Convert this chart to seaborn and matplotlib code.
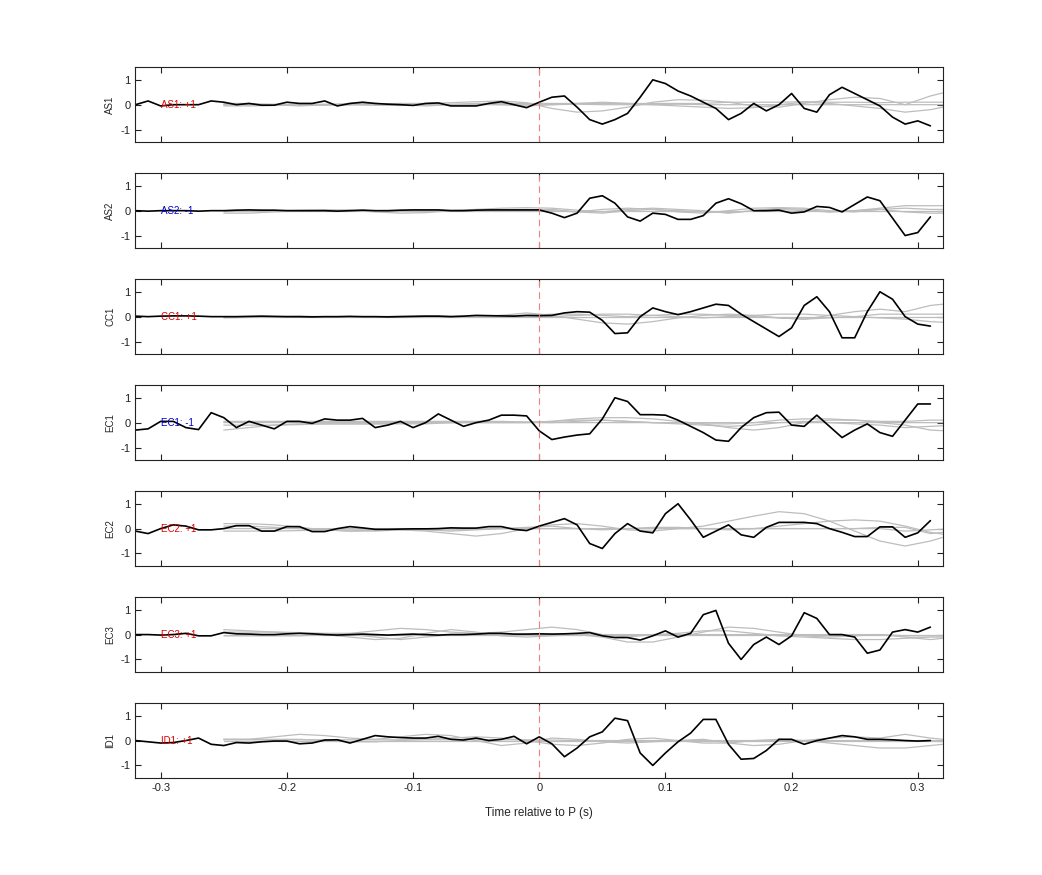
import numpy as np
import pandas as pd
import matplotlib
matplotlib.use("Agg")
import matplotlib.pyplot as plt
import seaborn as sns

stations = ["AS1", "AS2", "CC1", "EC1", "EC2", "EC3", "ID1"]
polarity = ["+1", "-1", "+1", "-1", "+1", "+1", "+1"]
pol_colors = ["#dd0000", "#0000cc", "#dd0000", "#0000cc", "#dd0000", "#dd0000", "#dd0000"]

t_obs = np.round(np.arange(-32, 32) * 0.01, 2)

obs_AS1 = [0.0, 0.15, -0.05, 0.0, 0.0, 0.0, 0.15, 0.1, 0.0, 0.05, -0.02, -0.02, 0.1, 0.05, 0.05, 0.15,
           -0.05, 0.05, 0.1, 0.05, 0.02, 0.0, -0.03, 0.05, 0.07, -0.05, -0.05, -0.05, 0.05, 0.12, 0.0, -0.12,
           0.1, 0.3, 0.35, -0.1, -0.6, -0.78, -0.6, -0.35, 0.3, 1.0, 0.85, 0.55, 0.35, 0.1, -0.15, -0.6,
           -0.35, 0.05, -0.25, 0.0, 0.45, -0.15, -0.3, 0.4, 0.7, 0.45, 0.2, -0.05, -0.5, -0.78, -0.65, -0.85]
obs_AS2 = [0.0, -0.02, 0.0, 0.0, 0.0, -0.02, 0.0, 0.0, 0.02, 0.03, 0.02, 0.02, 0.0, 0.0, 0.0, 0.0,
           -0.02, 0.0, 0.02, 0.0, 0.0, 0.02, 0.03, 0.03, 0.03, 0.0, 0.0, 0.02, 0.03, 0.03, 0.03, 0.03,
           0.03, -0.1, -0.28, -0.1, 0.5, 0.6, 0.3, -0.25, -0.42, -0.1, -0.15, -0.35, -0.35, -0.2, 0.3, 0.48,
           0.28, 0.0, 0.0, 0.02, -0.1, -0.05, 0.17, 0.13, -0.05, 0.25, 0.55, 0.4, -0.3, -1.0, -0.88, -0.25]
obs_CC1 = [0.02, 0.0, 0.02, 0.03, 0.03, 0.02, 0.0, 0.0, 0.0, 0.01, 0.02, 0.01, 0.0, 0.0, -0.01, 0.0,
           0.0, 0.01, 0.0, 0.0, -0.01, 0.0, 0.01, 0.02, 0.02, 0.0, 0.02, 0.05, 0.04, 0.03, 0.02, 0.05,
           0.04, 0.05, 0.15, 0.2, 0.18, -0.15, -0.68, -0.65, 0.0, 0.35, 0.2, 0.08, 0.2, 0.35, 0.5, 0.45,
           0.1, -0.2, -0.5, -0.8, -0.45, 0.45, 0.8, 0.2, -0.85, -0.85, 0.2, 1.0, 0.7, 0.0, -0.3, -0.38]
obs_EC1 = [-0.3, -0.25, 0.05, 0.05, -0.2, -0.28, 0.4, 0.2, -0.2, 0.05, -0.1, -0.25, 0.05, 0.05, -0.03, 0.15,
           0.1, 0.1, 0.17, -0.2, -0.1, 0.05, -0.2, 0.0, 0.35, 0.1, -0.15, 0.0, 0.1, 0.3, 0.3, 0.27,
           -0.33, -0.68, -0.58, -0.5, -0.45, 0.15, 1.0, 0.85, 0.32, 0.32, 0.3, 0.1, -0.15, -0.4, -0.7, -0.75,
           -0.2, 0.2, 0.4, 0.42, -0.1, -0.15, 0.3, -0.15, -0.6, -0.3, -0.05, -0.4, -0.55, 0.1, 0.75, 0.75]
obs_EC2 = [-0.1, -0.2, 0.0, 0.15, 0.1, -0.05, -0.05, 0.0, 0.12, 0.12, -0.1, -0.1, 0.08, 0.08, -0.12, -0.12,
           0.0, 0.08, 0.03, -0.03, -0.03, -0.02, -0.01, -0.01, 0.0, 0.03, 0.02, 0.02, 0.08, 0.08, -0.03, -0.08,
           0.1, 0.25, 0.4, 0.15, -0.6, -0.8, -0.2, 0.2, -0.1, -0.17, 0.6, 1.0, 0.35, -0.35, -0.1, 0.15,
           -0.25, -0.35, 0.05, 0.25, 0.25, 0.25, 0.2, 0.0, -0.15, -0.32, -0.32, 0.07, 0.07, -0.35, -0.17, 0.32]
obs_EC3 = [0.0, 0.0, -0.02, 0.0, 0.05, -0.05, -0.05, 0.08, 0.03, 0.02, 0.0, 0.0, 0.03, 0.05, 0.03, 0.0,
           -0.02, 0.0, 0.02, 0.0, -0.02, 0.0, 0.02, 0.0, -0.02, 0.0, 0.0, 0.02, 0.05, 0.05, 0.02, 0.02,
           0.03, 0.02, 0.03, 0.05, 0.08, -0.05, -0.12, -0.12, -0.22, -0.05, 0.15, -0.1, 0.05, 0.8, 0.97, -0.35,
           -1.0, -0.4, -0.1, -0.4, -0.05, 0.88, 0.65, 0.0, 0.0, -0.1, -0.75, -0.62, 0.1, 0.2, 0.1, 0.3]
obs_ID1 = [0.0, -0.05, -0.1, -0.08, 0.0, 0.1, -0.15, -0.2, -0.08, -0.1, -0.05, -0.02, -0.02, -0.13, -0.1, 0.02,
           0.03, -0.1, 0.05, 0.2, 0.15, 0.12, 0.1, 0.1, 0.17, 0.05, 0.02, 0.1, 0.0, 0.05, 0.17, -0.13,
           0.15, -0.13, -0.65, -0.3, 0.15, 0.35, 0.9, 0.8, -0.5, -1.0, -0.5, -0.05, 0.3, 0.85, 0.85, -0.15,
           -0.75, -0.72, -0.4, 0.05, 0.05, -0.15, 0.0, 0.1, 0.2, 0.15, 0.05, 0.05, 0.03, 0.0, -0.02, 0.0]

t_syn = np.round(np.arange(-25, 34, 2) * 0.01, 2)  # -0.25 .. 0.33

syn_AS1 = [
    [0, 0, 0.02, 0, -0.02, 0, 0.03, 0.05, 0.05, 0.08, 0.12, 0.15, 0.08, -0.15, -0.3, -0.25, -0.1, 0.1, 0.2, 0.18, 0.1, -0.05, -0.1, 0.05, 0.2, 0.3, 0.25, 0.0, 0.35, 0.6],
    [-0.05, -0.05, -0.03, 0, 0.02, 0, -0.02, -0.03, 0, 0.02, 0.03, 0.0, -0.05, 0.0, 0.05, 0.1, 0.05, 0.0, -0.05, -0.1, -0.15, -0.12, 0.0, 0.1, 0.05, -0.05, -0.15, -0.3, -0.2, 0.0],
    [0.05, 0.05, 0.0, -0.05, 0, 0.05, 0.05, 0, -0.05, 0, 0.05, 0.05, 0.05, 0.05, 0.05, 0.05, 0.05, 0.05, 0.05, 0.05, 0.1, 0.1, 0.1, 0.12, 0.1, 0.1, 0.08, 0.1, 0.1, 0.1],
    [0, 0, 0, -0.02, 0, 0, 0, -0.02, 0, 0, 0, 0, 0, 0, 0.02, 0, 0, 0, 0.02, 0, 0, 0, 0, 0, 0, 0, 0, 0, 0, 0]]
syn_AS2 = [
    [-0.1, -0.1, -0.05, 0, 0.03, 0.02, -0.05, -0.1, -0.08, 0, 0.05, 0.1, 0.12, 0.1, 0.02, -0.05, 0.05, 0.1, 0.05, 0.0, -0.1, 0.0, 0.1, 0.05, -0.05, 0.0, 0.1, 0.2, 0.2, 0.2],
    [0, 0, 0, 0.02, 0.03, 0.02, 0, -0.02, 0, 0.02, 0.03, 0.03, 0.05, 0.0, -0.05, 0.05, 0.1, 0.05, -0.05, -0.1, 0.0, 0.1, 0.12, 0.1, 0.0, -0.05, 0.05, 0.1, 0.05, 0.05],
    [0, 0, 0, 0, 0, 0, 0, 0, 0, 0, 0, 0, 0, 0.05, -0.05, -0.1, 0.0, 0.05, 0.0, -0.05, -0.08, 0.0, 0.05, 0.0, -0.05, 0.0, 0.05, -0.05, -0.1, -0.1],
    [0, 0, 0, 0, 0, 0, 0, 0, 0, 0, 0, 0, 0, 0, 0, 0, 0, 0, 0, 0, 0, 0, 0, 0, 0, 0, 0, 0, 0, 0]]
syn_CC1 = [
    [-0.05, -0.03, 0, 0.02, 0, -0.02, 0, 0.02, 0.03, 0.02, 0, 0.05, 0.15, 0.05, -0.1, -0.25, -0.3, -0.2, -0.05, 0.05, 0.1, 0.05, -0.05, -0.1, 0.05, 0.2, 0.3, 0.2, 0.45, 0.55],
    [0, 0, 0, 0, 0, 0, 0, 0, 0, 0, 0.02, 0.05, 0.05, 0.1, 0.1, 0.05, 0.0, 0.05, 0.1, 0.1, 0.05, 0.0, -0.05, -0.1, -0.05, 0.0, -0.05, -0.1, -0.2, -0.25],
    [0, 0, 0, 0, 0, 0, 0, 0, 0, 0, 0, 0, 0, 0.0, 0.05, 0.1, 0.1, 0.05, 0.0, -0.05, 0.0, 0.05, 0.1, 0.1, 0.05, 0.0, 0.1, 0.1, 0.1, 0.1],
    [0, 0, 0, 0, 0, 0, 0, 0, 0, 0, 0, 0, 0, 0, 0, 0, 0, 0, 0, 0, 0, 0, 0, 0, 0, 0, 0, 0, 0, 0]]
syn_EC1 = [
    [-0.3, -0.2, -0.1, -0.05, -0.05, -0.05, -0.05, -0.05, -0.05, 0, 0.02, 0.02, 0.02, 0.05, 0.15, 0.2, 0.2, 0.15, 0.05, -0.05, -0.2, -0.3, -0.2, 0.0, 0.1, 0.1, 0.0, -0.1, -0.3, -0.35],
    [-0.1, -0.1, -0.1, -0.08, -0.05, -0.05, -0.05, -0.02, 0, 0, 0, 0, 0, 0.05, 0.1, 0.1, 0.05, 0.0, -0.05, -0.1, -0.15, -0.1, 0.0, 0.05, 0.0, -0.05, -0.1, -0.2, -0.15, -0.1],
    [0, 0, 0, 0, 0, 0, 0, 0, 0, 0, 0, 0, 0, 0, 0.05, 0.1, 0.05, 0, 0, -0.05, -0.05, 0.0, 0.1, 0.15, 0.15, 0.1, 0.05, 0.05, 0.1, 0.1],
    [0.05, 0.05, 0.05, 0.05, 0.05, 0.05, 0.05, 0.05, 0.05, 0.05, 0.05, 0.05, 0.02, 0, 0, 0, 0, 0, 0, 0, 0, 0, 0, 0, 0, 0, 0, 0, 0, 0]]
syn_EC2 = [
    [0.2, 0.2, 0.15, 0.05, -0.05, -0.1, -0.1, -0.05, -0.1, -0.2, -0.3, -0.2, 0.0, 0.15, 0.2, 0.1, -0.05, -0.1, 0.0, 0.1, 0.3, 0.5, 0.68, 0.6, 0.3, -0.1, -0.5, -0.7, -0.5, -0.2],
    [0.1, 0.1, 0.05, 0, -0.05, -0.1, -0.05, 0, -0.05, -0.1, -0.05, 0.0, 0.05, 0.1, 0.0, -0.05, 0.0, 0.05, 0.05, 0.0, -0.05, 0.0, 0.1, 0.2, 0.3, 0.35, 0.3, 0.1, -0.15, -0.3],
    [0, 0, 0, 0, 0, 0, 0, 0, 0, 0, 0, 0, 0, 0, 0, 0, 0, 0, 0, 0, 0, 0, 0, 0, 0, 0, 0.05, 0.05, -0.2, -0.1],
    [-0.1, -0.1, -0.1, -0.08, -0.05, -0.05, -0.05, -0.05, -0.05, -0.05, -0.03, 0, 0, 0, 0, 0, 0, 0, 0, 0, 0, 0, 0, 0, 0, 0, 0, -0.1, -0.05, 0.0]]
syn_EC3 = [
    [0.2, 0.15, 0.1, 0.05, 0, -0.1, -0.2, -0.15, 0.05, 0.2, 0.1, -0.05, -0.1, -0.05, 0.0, -0.1, -0.3, -0.3, -0.1, 0.1, 0.3, 0.25, 0.1, -0.05, -0.1, -0.05, 0.0, -0.1, -0.2, -0.1],
    [0.1, 0.1, 0.1, 0.08, 0.05, 0.05, 0.15, 0.25, 0.2, 0.1, 0.05, 0.1, 0.2, 0.3, 0.2, 0.0, -0.1, 0.0, 0.05, 0.15, 0.15, 0.05, -0.05, -0.1, -0.15, -0.2, -0.2, -0.15, -0.1, -0.1],
    [0, 0, 0, 0, 0, 0, 0, 0, 0, 0, 0, 0, 0, 0, 0, 0, 0, 0, 0, 0, 0, 0, 0, 0, 0, 0, 0, 0, 0, 0],
    [-0.05, -0.05, -0.05, -0.05, 0, 0, -0.1, -0.2, -0.1, 0, 0, 0, 0, 0, 0, 0, 0, 0, 0, 0, 0, 0, 0, 0, 0, 0, 0, -0.05, -0.05, -0.05]]
syn_ID1 = [
    [0.05, 0.05, 0.15, 0.25, 0.2, 0.1, 0.05, 0.15, 0.25, 0.2, 0.0, -0.2, -0.1, 0.1, 0.05, -0.05, -0.1, -0.05, 0.0, 0.05, -0.1, -0.2, -0.15, 0.0, 0.1, 0.15, 0.1, 0.25, 0.1, 0.0],
    [0.05, 0.05, 0.05, 0.05, 0.0, -0.05, -0.05, 0.0, 0.05, 0.1, 0.15, 0.1, 0.0, -0.15, -0.2, -0.1, 0.05, 0.1, 0.0, -0.1, -0.1, 0.0, 0.05, 0.0, -0.1, -0.2, -0.3, -0.3, -0.2, -0.1],
    [0, 0, 0, 0, 0, 0, 0, 0, 0, 0, 0, 0, 0, 0, 0, 0, 0, 0, 0, 0, 0, 0, 0, 0, 0, 0, 0, 0, 0, 0],
    [0.03, 0.03, 0.03, 0.03, 0.03, 0.03, 0.03, 0.03, 0.03, 0.03, 0.03, 0.03, 0.03, 0.02, 0.0, 0.0, 0.0, 0.0, 0.0, 0.0, 0.0, 0.0, 0.0, 0.0, 0.0, 0.0, 0.0, 0.0, 0.0, 0.0]]

obs_all = [obs_AS1, obs_AS2, obs_CC1, obs_EC1, obs_EC2, obs_EC3, obs_ID1]
syn_all = [syn_AS1, syn_AS2, syn_CC1, syn_EC1, syn_EC2, syn_EC3, syn_ID1]

sns.set_theme(style="white")
plt.rcParams['font.family'] = ['Liberation Sans', 'DejaVu Sans']
plt.rcParams['axes.unicode_minus'] = False

fig, axes = plt.subplots(7, 1, figsize=(10.42, 8.75), dpi=100, sharex=True)
fig.subplots_adjust(left=0.13, right=0.905, top=0.923, bottom=0.111, hspace=0.42)

for i, ax in enumerate(axes):
    for k, s in enumerate(syn_all[i]):
        d = pd.DataFrame({"t": t_syn, "v": s})
        sns.lineplot(data=d, x="t", y="v", ax=ax, color="#bdbdbd", lw=0.9, estimator=None)
    d = pd.DataFrame({"t": t_obs, "v": obs_all[i]})
    sns.lineplot(data=d, x="t", y="v", ax=ax, color="black", lw=1.2, estimator=None)
    ax.axvline(0, color="#f08080", ls=(0, (6, 4)), lw=0.8)
    ax.text(-0.3, 0, f"{stations[i]}: {polarity[i]}", color=pol_colors[i], fontsize=7,
            va="center", ha="left")
    ax.set_xlim(-0.32, 0.32)
    ax.set_ylim(-1.5, 1.5)
    ax.set_yticks([-1, 0, 1])
    ax.set_xticks([-0.3, -0.2, -0.1, 0, 0.1, 0.2, 0.3])
    ax.set_xticklabels(["-0.3", "-0.2", "-0.1", "0", "0.1", "0.2", "0.3"])
    ax.set_ylabel(stations[i], fontsize=7)
    ax.set_xlabel("")
    ax.tick_params(direction="in", length=4, width=0.8, labelsize=8, top=True, right=True,
                   bottom=True, left=True, colors="#222222")
    for sp in ax.spines.values():
        sp.set_color("#222222")
        sp.set_linewidth(0.8)
    if i < 6:
        ax.tick_params(labelbottom=False)

axes[-1].set_xlabel("Time relative to P (s)", fontsize=8.5, labelpad=10)
fig.savefig("out.png", dpi=100)
